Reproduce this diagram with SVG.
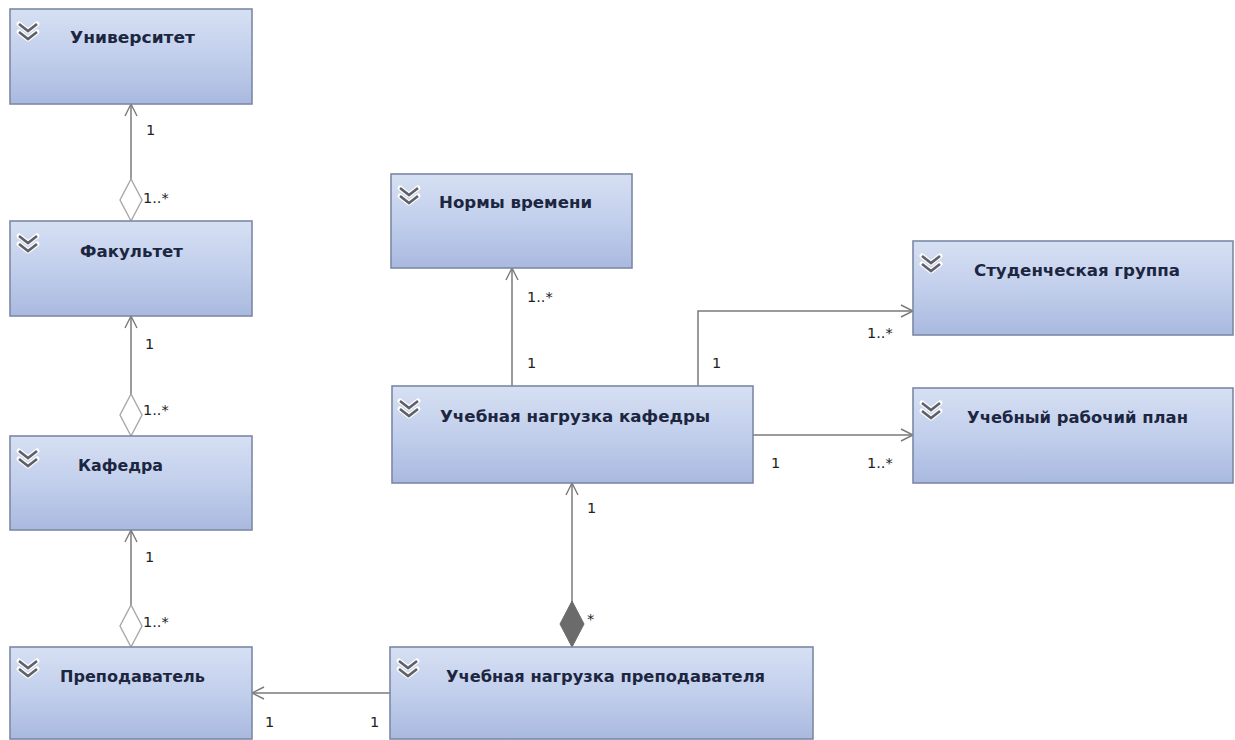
<svg xmlns="http://www.w3.org/2000/svg" width="1235" height="740" viewBox="0 0 1235 740">
<defs>
<linearGradient id="boxg" x1="0" y1="0" x2="0" y2="1">
<stop offset="0" stop-color="#d6e0f3"/>
<stop offset="0.5" stop-color="#c2cfec"/>
<stop offset="1" stop-color="#a9b9df"/>
</linearGradient>
<marker id="arrow" markerUnits="userSpaceOnUse" markerWidth="16" markerHeight="16" refX="13" refY="7" orient="auto" overflow="visible">
<path d="M1,1 L13,7 L1,13" fill="none" stroke="#7a7a7a" stroke-width="1.4"/>
</marker>
<marker id="agg" markerUnits="userSpaceOnUse" markerWidth="44" markerHeight="24" refX="0" refY="11" orient="auto" overflow="visible">
<path d="M0,11 L21,0 L42,11 L21,22 Z" fill="#ffffff" stroke="#a8a8a8" stroke-width="1.4"/>
</marker>
<marker id="comp" markerUnits="userSpaceOnUse" markerWidth="50" markerHeight="26" refX="0" refY="12" orient="auto" overflow="visible">
<path d="M0,12 L23,0 L46,12 L23,24 Z" fill="#6b6b6b" stroke="#6b6b6b" stroke-width="1"/>
</marker>
<g id="icon">
<path d="M0,0 L9,7 L18,0 M0,8 L9,15 L18,8" fill="none" stroke="#ffffff" stroke-width="5" stroke-linejoin="round" stroke-linecap="round"/>
<path d="M0,0 L9,7 L18,0 M0,8 L9,15 L18,8" fill="none" stroke="#5f6068" stroke-width="2.6" stroke-linejoin="miter"/>
</g>
</defs>
<style>
.box{fill:url(#boxg);stroke:#7c89a6;stroke-width:1.6}
.name{font-family:"DejaVu Sans","Liberation Sans",sans-serif;font-weight:bold;font-size:16px;fill:#1c2640}
.mult{font-family:"DejaVu Sans","Liberation Sans",sans-serif;font-size:14.5px;fill:#222222}
.line{fill:none;stroke:#7a7a7a;stroke-width:1.5}
</style>
<rect width="1235" height="740" fill="#ffffff"/>

<g id="connectors">
<path class="line" d="M131,221 L131,104" marker-start="url(#agg)" marker-end="url(#arrow)"/>
<path class="line" d="M131,436 L131,316" marker-start="url(#agg)" marker-end="url(#arrow)"/>
<path class="line" d="M131,647 L131,530" marker-start="url(#agg)" marker-end="url(#arrow)"/>
<path class="line" d="M512,386 L512,268" marker-end="url(#arrow)"/>
<path class="line" d="M698,386 L698,311 L913,311" marker-end="url(#arrow)"/>
<path class="line" d="M753,435 L913,435" marker-end="url(#arrow)"/>
<path class="line" d="M572,647 L572,483" marker-start="url(#comp)" marker-end="url(#arrow)"/>
<path class="line" d="M390,693 L252,693" marker-end="url(#arrow)"/>
<text class="mult" x="146" y="135">1</text>
<text class="mult" x="143" y="203">1..*</text>
<text class="mult" x="145" y="349">1</text>
<text class="mult" x="143" y="415">1..*</text>
<text class="mult" x="145" y="562">1</text>
<text class="mult" x="143" y="627">1..*</text>
<text class="mult" x="527" y="302">1..*</text>
<text class="mult" x="527" y="368">1</text>
<text class="mult" x="712" y="368">1</text>
<text class="mult" x="867" y="338">1..*</text>
<text class="mult" x="771" y="468">1</text>
<text class="mult" x="867" y="468">1..*</text>
<text class="mult" x="587" y="513">1</text>
<text class="mult" x="587" y="624">*</text>
<text class="mult" x="265" y="727">1</text>
<text class="mult" x="370" y="727">1</text>
</g>

<g id="university">
<rect class="box" x="10" y="9" width="242" height="95"/>
<use href="#icon" x="19" y="24"/>
<text class="name" x="70" y="43" textLength="125" lengthAdjust="spacingAndGlyphs">Университет</text>
</g>
<g id="faculty">
<rect class="box" x="10" y="221" width="242" height="95"/>
<use href="#icon" x="19" y="236"/>
<text class="name" x="80" y="257" textLength="103" lengthAdjust="spacingAndGlyphs">Факультет</text>
</g>
<g id="department">
<rect class="box" x="10" y="436" width="242" height="94"/>
<use href="#icon" x="19" y="451"/>
<text class="name" x="78" y="471" textLength="85" lengthAdjust="spacingAndGlyphs">Кафедра</text>
</g>
<g id="teacher">
<rect class="box" x="10" y="647" width="242" height="92"/>
<use href="#icon" x="19" y="661"/>
<text class="name" x="60" y="682" textLength="145" lengthAdjust="spacingAndGlyphs">Преподаватель</text>
</g>
<g id="time-norms">
<rect class="box" x="391" y="174" width="241" height="94"/>
<use href="#icon" x="400" y="188"/>
<text class="name" x="439" y="208" textLength="153" lengthAdjust="spacingAndGlyphs">Нормы времени</text>
</g>
<g id="dept-load">
<rect class="box" x="392" y="386" width="361" height="97"/>
<use href="#icon" x="400" y="401"/>
<text class="name" x="440" y="422" textLength="270" lengthAdjust="spacingAndGlyphs">Учебная нагрузка кафедры</text>
</g>
<g id="student-group">
<rect class="box" x="913" y="241" width="320" height="94"/>
<use href="#icon" x="922" y="256"/>
<text class="name" x="974" y="276" textLength="206" lengthAdjust="spacingAndGlyphs">Студенческая группа</text>
</g>
<g id="study-plan">
<rect class="box" x="913" y="388" width="320" height="95"/>
<use href="#icon" x="922" y="403"/>
<text class="name" x="967" y="423" textLength="221" lengthAdjust="spacingAndGlyphs">Учебный рабочий план</text>
</g>
<g id="teacher-load">
<rect class="box" x="390" y="647" width="423" height="92"/>
<use href="#icon" x="399" y="661"/>
<text class="name" x="446" y="682" textLength="319" lengthAdjust="spacingAndGlyphs">Учебная нагрузка преподавателя</text>
</g>
</svg>
